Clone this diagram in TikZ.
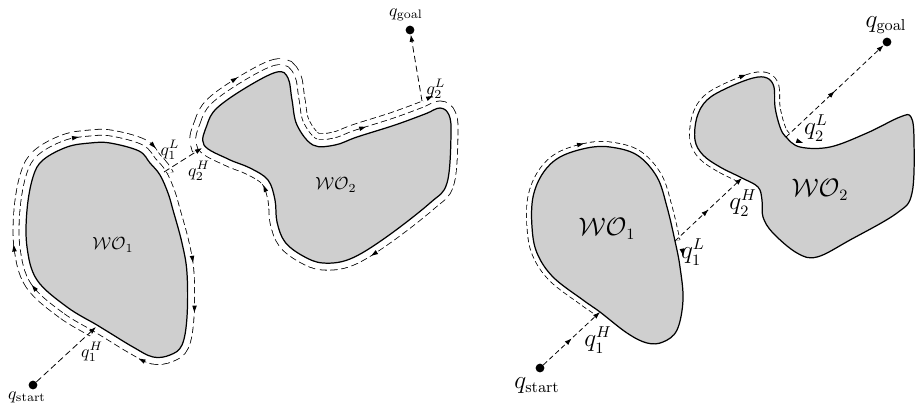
\documentclass[tikz,border=0pt]{standalone}
\usetikzlibrary{arrows.meta,decorations.markings}
\definecolor{obstgray}{gray}{0.81}
\tikzset{
  obst/.style={fill=obstgray, draw=black, line width=0.7pt},
  edgeA/.style={draw=black, line width=#1, dash pattern=on 3.6pt off 1.9pt},
  edgeB/.style={draw=black, line width=#1, dash pattern=on 2.8pt off 1.7pt},
  hide/.style={draw=white, line width=#1},
  mlineA/.style={draw=black, line width=0.45pt, dash pattern=on 3.6pt off 2pt},
  mlineB/.style={draw=black, line width=0.45pt, dash pattern=on 2.8pt off 1.8pt},
  tipat/.style 2 args={postaction={decorate, decoration={markings,
    mark=at position #1 with {\fill[yshift=#2] (1.9pt,0pt) -- (-1.9pt,1.3pt) -- (-1.9pt,-1.3pt) -- cycle;}}}},
  endtip/.style={-{Latex[length=4pt,width=2.8pt]}},
  midtip/.style={postaction={decorate, decoration={markings,
    mark=at position 0.5 with {\arrow{Latex[length=4pt,width=2.8pt]}}}}},
  endpt/.style={circle, fill, inner sep=0pt, minimum size=5pt},
  labA/.style={inner sep=0pt},
  labB/.style={inner sep=0pt, font=\fontsize{13.4}{16}\selectfont}
}
% obstacle outlines, listed clockwise from the hit point
\def\wolA{plot[smooth cycle, tension=0.6] coordinates {(97,325) (67,307) (37,280) (27,247) (27,210) (33,177) (43,160) (67,147) (90,143) (110,143) (139,151) (150,163) (160,175) (168,193) (173,210) (182,243) (187,273) (187,317) (182,345) (170,355) (153,357) (133,347) (110,333)}}
\def\wolB{plot[smooth cycle, tension=0.6] coordinates {(204,145) (207,125) (217,108) (247,87) (277,72) (288,78) (292,100) (297,125) (313,145) (335,145) (357,137) (395,125) (425,114) (440,108) (449,115) (451,135) (447,183) (430,203) (385,238) (350,259) (323,263) (303,256) (285,242) (277,222) (275,200) (268,180) (250,168) (228,159)}}
\def\worA{plot[smooth cycle, tension=0.6] coordinates {(600,312) (583,300) (553,277) (537,253) (532,227) (533,197) (543,173) (560,157) (587,148) (610,147) (637,155) (657,177) (667,207) (675,241) (680,267) (683,300) (677,330) (663,342) (647,343) (627,333)}}
\def\worB{plot[smooth cycle, tension=0.6] coordinates {(742,178) (720,167) (703,155) (695,140) (697,117) (707,100) (727,88) (753,78) (767,78) (774,87) (775,107) (780,127) (786,137) (800,147) (830,147) (867,133) (900,117) (911,117) (914,140) (912,193) (897,213) (850,240) (817,257) (797,253) (773,233) (763,217) (762,200) (758,187)}}
\begin{document}
\begin{tikzpicture}[x=0.02cm, y=-0.02cm]
\useasboundingbox (0,0) rectangle (916,407);

% Bug 1: second pass over the obstacles
\begin{scope}
  \clip (84,346) -- (102,316) -- (140,230) -- (150,177) -- (184,170) -- (190,60) -- (0,60) -- (0,346) -- cycle;
  \path[edgeA=15.2pt] \wolA;
  \path[hide=14.3pt] \wolA;
\end{scope}
\path[edgeA=8.4pt] \wolA;
\path[hide=7.5pt] \wolA;
\begin{scope}
  \clip (165,170) -- (204,145) -- (260,175) -- (330,175) -- (430,130) -- (418,80) -- (418,40) -- (165,40) -- cycle;
  \path[edgeA=15.2pt] \wolB;
  \path[hide=14.3pt] \wolB;
\end{scope}
\path[edgeA=8.4pt] \wolB;
\path[hide=7.5pt] \wolB;
\path[obst] \wolA;
\path[obst] \wolB;
\path[tipat={0.06}{4pt}, tipat={0.125}{7.4pt}, tipat={0.335}{4pt}, tipat={0.45}{7.4pt},
  tipat={0.64}{4pt}, tipat={0.72}{4pt}, tipat={0.85}{4pt}] \wolA;
\path[tipat={0.067}{7.4pt}, tipat={0.31}{4pt}, tipat={0.41}{7.4pt},
  tipat={0.66}{4pt}, tipat={0.865}{4pt}] \wolB;

\node[endpt] (startA) at (33,385) {};
\node[endpt] (goalA) at (410,30) {};
\coordinate (hitA) at (96,327);
\coordinate (leaveA) at (164,172);
\coordinate (hitB) at (202,148);
\coordinate (leaveB) at (422,101);
\draw[mlineA, endtip] (startA) -- (hitA);
\draw[mlineA, endtip] (leaveA) -- (hitB);
\draw[mlineA, endtip] (leaveB) -- (goalA);

\node[labA] (woA) at (113,245) {$\mathcal{WO}_1$};
\node[labA] (woB) at (336,185) {$\mathcal{WO}_2$};
\node[labA] (lstartA) at (27,397) {$q_{\mathrm{start}}$};
\node[labA] (lgoalA) at (406,15) {$q_{\mathrm{goal}}$};
\node[labA] (lhitA) at (92,352) {$q_1^H$};
\node[labA] (lleaveA) at (170,150) {$q_1^L$};
\node[labA] (lhitB) at (199,171) {$q_2^H$};
\node[labA] (lleaveB) at (436,89) {$q_2^L$};

% Bug 2: follow the boundary until the m-line is met again
\begin{scope}
  \clip (588,328) -- (606,304) -- (620,270) -- (665,243) -- (695,237) -- (695,120) -- (510,120) -- (510,328) -- cycle;
  \path[edgeB=6.15pt] \worA;
  \path[hide=5.25pt] \worA;
\end{scope}
\begin{scope}
  \clip (733,196) -- (750,162) -- (770,160) -- (779,144) -- (800,123) -- (800,50) -- (680,50) -- (680,196) -- cycle;
  \path[edgeB=6.15pt] \worB;
  \path[hide=5.25pt] \worB;
\end{scope}
\path[obst] \worA;
\path[obst] \worB;
\path[tipat={0.355}{2.85pt}, tipat={0.655}{2.85pt}] \worA;
\path[tipat={0.18}{2.85pt}, tipat={0.33}{2.85pt}] \worB;

\node[endpt] (startB) at (540,368) {};
\node[endpt] (goalB) at (887,42) {};
\coordinate (hitC) at (600,312);
\coordinate (leaveC) at (675,241);
\coordinate (hitD) at (742,178);
\coordinate (leaveD) at (786,137);
\draw[mlineB, endtip, midtip] (startB) -- (hitC);
\draw[mlineB, endtip, midtip] (leaveC) -- (hitD);
\draw[mlineB, endtip, midtip] (leaveD) -- (goalB);

\node[labB] (woC) at (607,229) {$\mathcal{WO}_1$};
\node[labB] (woD) at (820,190) {$\mathcal{WO}_2$};
\node[labB] (lstartB) at (537,386) {$q_{\mathrm{start}}$};
\node[labB] (lgoalB) at (886,25) {$q_{\mathrm{goal}}$};
\node[labB] (lhitC) at (598,340) {$q_1^H$};
\node[labB] (lleaveC) at (693,252) {$q_1^L$};
\node[labB] (lhitD) at (743,203) {$q_2^H$};
\node[labB] (lleaveD) at (816,128) {$q_2^L$};
\end{tikzpicture}
\end{document}
